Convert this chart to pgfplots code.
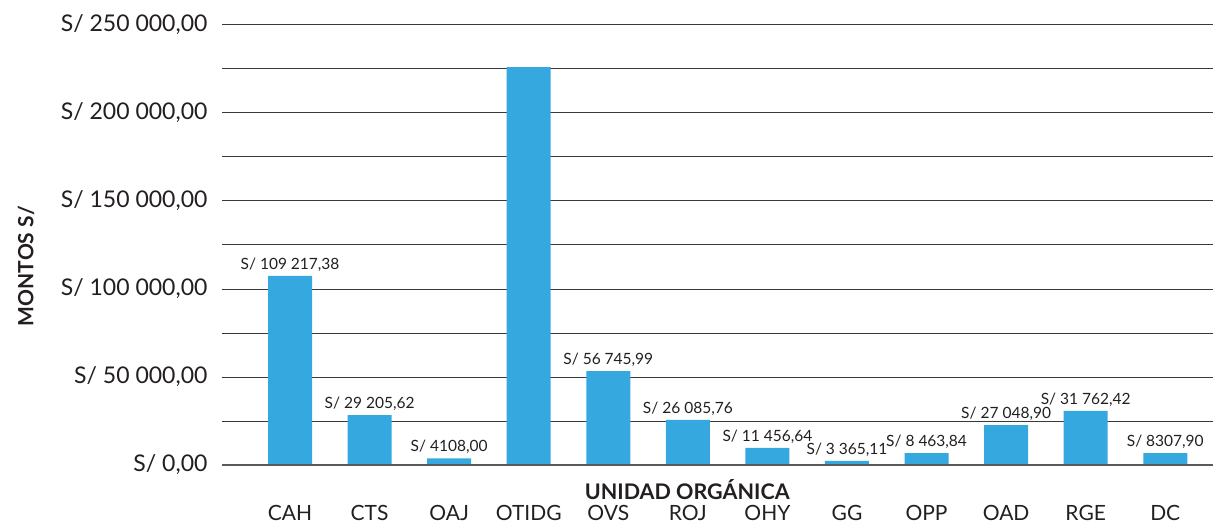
\documentclass[border=0pt]{standalone}
\usepackage{pgfplots}
\pgfplotsset{compat=1.18}
\usepackage{fontspec}
\setmainfont{Lato}
\definecolor{barblue}{HTML}{35A8DF}
\definecolor{txt}{HTML}{231F20}
\definecolor{gridc}{HTML}{3A3A3A}

\begin{document}
\begin{tikzpicture}
\begin{axis}[
  scale only axis,
  width=991pt, height=440pt,
  xmin=-0.855, xmax=11.6,
  ymin=0, ymax=250000,
  scaled y ticks=false,
  axis line style={draw=none},
  ybar, bar width=44pt,
  xtick={0,...,11},
  xticklabels={CAH,CTS,OAJ,OTIDG,OVS,ROJ,OHY,GG,OPP,OAD,RGE,DC},
  xticklabel style={font=\fontsize{21}{24}\selectfont, text=txt, yshift=-37pt},
  major tick length=0pt, minor tick length=0pt,
  ytick={0,50000,100000,150000,200000,250000},
  minor ytick={25000,75000,125000,175000,225000},
  yticklabels={{S/ 0,00},{S/ 50 000,00},{S/ 100 000,00},{S/ 150 000,00},{S/ 200 000,00},{S/ 250 000,00}},
  yticklabel style={font=\fontsize{23}{27}\selectfont, text=txt, xshift=-11pt},
  ymajorgrids, yminorgrids,
  major grid style={gridc, line width=1pt},
  minor grid style={gridc, line width=1pt},
  xlabel={\textbf{UNIDAD ORGÁNICA}},
  xlabel style={font=\fontsize{21.5}{25}\selectfont, text=txt, at={(axis description cs:0.4695,0)}, anchor=north, yshift=-11pt},
  ylabel={\textbf{MONTOS S/}},
  ylabel style={font=\fontsize{21}{25}\selectfont, text=txt, at={(axis description cs:0,0.452)}, anchor=center, yshift=196pt},
  point meta=explicit symbolic,
  nodes near coords={\pgfplotspointmeta},
  every node near coord/.style={font=\fontsize{15.5}{18}\selectfont, text=txt, anchor=south, yshift=1pt},
  clip=false,
]
\addplot[fill=barblue, draw=none] coordinates {
  (0,107400) [S/ 109 217,38]
  (1,28400)  [S/ 29 205,62]
  (2,3800)   [S/ 4108,00]
  (3,226000) []
  (4,53400)  [S/ 56 745,99]
  (5,25600)  [S/ 26 085,76]
  (6,9700)   [S/ 11 456,64]
  (7,2300)   [S/ 3 365,11]
  (8,6800)   [S/ 8 463,84]
  (9,22700)  [S/ 27 048,90]
  (10,30700) [S/ 31 762,42]
  (11,6800)  [S/ 8307,90]
};
\draw[gray!70!black, line width=1.4pt] (axis cs:-0.855,0) -- (axis cs:11.6,0);
\end{axis}
\pgfresetboundingbox
\path (-222pt,-60pt) rectangle (991pt,465pt);
\end{tikzpicture}
\end{document}
